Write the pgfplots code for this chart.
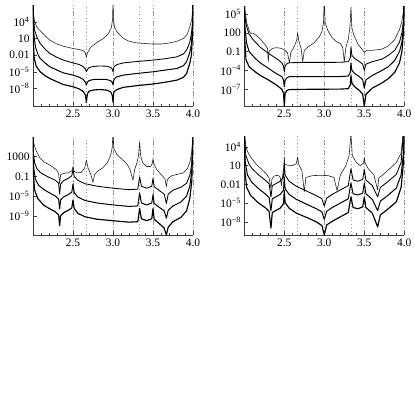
\documentclass[border=0pt]{standalone}
\usepackage{fontspec}
\setmainfont{Liberation Serif}
\usepackage{pgfplots}
\pgfplotsset{compat=1.18}
\pgfplotsset{
 panel/.style={
  scale only axis, width=160bp, xmin=2, xmax=4,
  axis x line=bottom, axis y line=left,
  axis line style={-, black!75, line width=0.5bp},
  xtick={2.5,3,3.5,4}, xticklabels={2.5,3.0,3.5,4.0},
  minor xtick={2.1,2.2,2.3,2.4,2.6,2.7,2.8,2.9,3.1,3.2,3.3,3.4,3.6,3.7,3.8,3.9},
  tick align=inside, major tick length=4bp, minor tick length=2.5bp,
  tick style={black!75, line width=0.4bp},
  xmajorgrids, major x grid style={gray!80, line width=0.5bp, dash pattern=on 5bp off 2bp on 1bp off 2bp},
  extra x ticks={2.666667,3.333333}, extra x tick labels={},
  extra x tick style={xmajorgrids, major x grid style={gray!80, line width=0.5bp, dash pattern=on 1bp off 2.5bp}, major tick length=0pt},
  ticklabel style={font=\fontsize{11.5}{12}\selectfont},
  every axis plot/.append style={black, line join=round},
 },
 c1/.style={line width=0.6bp, black!85},
 c2/.style={line width=0.85bp},
 c3/.style={line width=1.0bp},
 c4/.style={line width=1.15bp},
}
\begin{document}
\begin{tikzpicture}
\path[use as bounding box] (0,0) rectangle (415bp,-415bp);
% ---------------- Panel 1 ----------------
\begin{axis}[panel, at={(33bp,-106bp)}, anchor=south west, height=100.8bp,
  ymin=-11.17, ymax=7,
  ytick={-8,-5,-2,1,4}, yticklabels={10\textsuperscript{−8},10\textsuperscript{−5},0.01,10,10\textsuperscript{4}}]
\addplot[c1] coordinates {(2.0,8) (2.005,5.5) (2.02,4.0) (2.05,3.0) (2.09,2.4) (2.15,1.5) (2.21,0.7) (2.3,0.0) (2.38,-0.4) (2.5,-0.8) (2.58,-1.0) (2.63,-1.2) (2.655,-1.6) (2.667,-2.4) (2.68,-1.6) (2.72,-0.6) (2.8,0.3) (2.88,1.0) (2.94,1.8) (2.98,3.0) (2.995,4.5) (3.0,8)
 (3.005,4.5) (3.02,3.0) (3.05,2.2) (3.13,1.0) (3.2,0.5) (3.3,0.2) (3.5,0.0) (3.6,0.0) (3.71,0.2) (3.8,0.5) (3.88,1.0) (3.93,1.8) (3.96,3.1) (3.985,4.5) (3.995,6) (4.0,8)};
\addplot[c2] coordinates {(2.0,8) (2.005,5) (2.02,2.5) (2.05,1.2) (2.09,0.1) (2.15,-0.9) (2.21,-1.7) (2.3,-2.4) (2.38,-2.9) (2.5,-3.4) (2.58,-3.7) (2.63,-4.1) (2.655,-4.5) (2.667,-5.0) (2.68,-4.6) (2.70,-4.25) (2.75,-4.05) (2.83,-3.95) (2.92,-4.0) (2.97,-4.2) (2.99,-4.5) (3.0,-5.0) (3.01,-4.2) (3.03,-3.9) (3.05,-3.7) (3.13,-3.4) (3.3,-3.15) (3.5,-2.9) (3.65,-2.65) (3.8,-2.3) (3.88,-1.8) (3.92,-1.1) (3.96,0.3) (3.98,1.9) (3.995,4) (4.0,8)};
\addplot[c3] coordinates {(2.0,8) (2.003,5) (2.01,2) (2.03,-0.5) (2.06,-1.8) (2.09,-2.6) (2.15,-3.4) (2.21,-4.1) (2.3,-4.7) (2.38,-5.2) (2.5,-5.6) (2.58,-6.0) (2.63,-6.4) (2.655,-6.9) (2.667,-7.4) (2.68,-6.9) (2.70,-6.6) (2.75,-6.4) (2.83,-6.35) (2.92,-6.4) (2.97,-6.6) (2.99,-6.9) (3.0,-7.3) (3.01,-6.5) (3.03,-6.1) (3.05,-5.9) (3.13,-5.6) (3.3,-5.3) (3.5,-5.0) (3.65,-4.7) (3.8,-4.4) (3.88,-3.9) (3.92,-3.2) (3.96,-1.5) (3.98,0) (3.995,3) (4.0,8)};
\addplot[c4] coordinates {(2.0,8) (2.002,4) (2.006,0) (2.015,-2.5) (2.04,-4.0) (2.09,-5.0) (2.15,-5.7) (2.21,-6.2) (2.3,-6.8) (2.38,-7.3) (2.5,-7.7) (2.58,-8.1) (2.63,-8.6) (2.655,-9.2) (2.667,-10.5) (2.68,-9.0) (2.70,-8.5) (2.75,-8.3) (2.83,-8.2) (2.92,-8.3) (2.97,-8.6) (2.99,-9.2) (3.0,-10.5) (3.01,-8.7) (3.03,-8.4) (3.05,-8.2) (3.13,-7.8) (3.3,-7.5) (3.5,-7.2) (3.65,-6.9) (3.8,-6.5) (3.88,-6.0) (3.92,-5.3) (3.96,-3.5) (3.98,-2) (3.995,2) (4.0,8)};
\end{axis}
% ---------------- Panel 2 ----------------
\begin{axis}[panel, at={(244.3bp,-106bp)}, anchor=south west, height=99.6bp,
  ymin=-9.66, ymax=6.2,
  ytick={-7,-4,-1,2,5}, yticklabels={10\textsuperscript{−7},10\textsuperscript{−4},0.1,100,10\textsuperscript{5}}]
\addplot[c1] coordinates {(2,8) (2.004,6.5) (2.009,5.6) (2.03,3.6) (2.06,2.4) (2.08,1.9) (2.1,1.95) (2.13,1.8) (2.2,1.0) (2.26,0.1) (2.29,-0.5) (2.3,-2.6) (2.31,-0.9) (2.35,-0.5) (2.4,-0.37) (2.45,-0.45) (2.5,-0.7) (2.54,-1.2) (2.565,-2.8) (2.58,-1.2) (2.62,-0.3) (2.655,0.8) (2.667,2.0) (2.68,0.8) (2.71,-0.5) (2.73,-2.6) (2.75,-0.8) (2.8,-0.2) (2.87,0.35) (2.94,1.4) (2.97,2.2) (2.99,3.6) (3.0,8) (3.01,3.6) (3.05,2.2) (3.1,1.2) (3.15,0.6) (3.2,0.3) (3.23,-0.3) (3.25,-2.6) (3.27,-0.3) (3.3,1.0) (3.32,2.8) (3.333,6.0) (3.345,2.8) (3.37,1.6) (3.42,0.2) (3.47,-0.6) (3.5,-1.1) (3.53,-0.8) (3.6,-0.8) (3.72,-0.6) (3.8,-0.1) (3.88,0.9) (3.94,2.5) (3.97,3.8) (3.99,5.5) (4,8)};
\addplot[c2] coordinates {(2,8) (2.005,5.5) (2.015,3.8) (2.029,3.0) (2.06,1.8) (2.113,0.86) (2.2,-0.3) (2.3,-1.26) (2.425,-2.3) (2.47,-2.8) (2.49,-3.3) (2.5,-4.2) (2.51,-3.3) (2.53,-2.95) (2.56,-2.78) (2.7,-2.72) (3.0,-2.72) (3.2,-2.7) (3.3,-2.6) (3.325,-2.0) (3.333,-0.3) (3.345,-1.6) (3.38,-2.1) (3.44,-2.6) (3.48,-3.0) (3.5,-4.0) (3.52,-3.0) (3.6,-2.6) (3.72,-2.2) (3.8,-1.6) (3.88,-0.8) (3.94,0.5) (3.97,2.0) (3.99,4) (4,8)};
\addplot[c3] coordinates {(2,8) (2.003,5) (2.01,2.5) (2.029,0.33) (2.06,-1.0) (2.134,-2.05) (2.2,-2.8) (2.3,-3.65) (2.4,-4.5) (2.47,-5.0) (2.49,-5.5) (2.5,-6.6) (2.51,-5.6) (2.53,-5.2) (2.56,-5.0) (2.8,-5.0) (3.2,-4.97) (3.3,-4.9) (3.325,-4.3) (3.333,-2.8) (3.345,-4.0) (3.38,-4.5) (3.44,-5.0) (3.48,-5.5) (3.5,-6.8) (3.52,-5.5) (3.6,-4.8) (3.72,-4.0) (3.8,-3.4) (3.88,-2.4) (3.94,-1.0) (3.97,0.5) (3.99,3) (4,8)};
\addplot[c4] coordinates {(2,8) (2.002,4) (2.008,0.5) (2.021,-2.3) (2.06,-3.4) (2.134,-4.2) (2.2,-4.8) (2.3,-5.5) (2.4,-6.3) (2.47,-7.0) (2.49,-7.6) (2.5,-9.7) (2.51,-7.7) (2.53,-7.2) (2.56,-7.05) (2.8,-7.0) (3.2,-6.97) (3.3,-6.9) (3.325,-6.3) (3.333,-4.8) (3.345,-6.0) (3.38,-6.6) (3.44,-7.2) (3.48,-7.8) (3.5,-9.7) (3.52,-7.8) (3.6,-6.8) (3.72,-6.0) (3.8,-5.3) (3.88,-4.3) (3.94,-2.8) (3.97,-1) (3.99,2) (4,8)};
\end{axis}
% ---------------- Panel 3 ----------------
\begin{axis}[panel, at={(33bp,-235bp)}, anchor=south west, height=97.1bp,
  ymin=-12.9, ymax=6.8,
  ytick={-9,-5,-1,3}, yticklabels={10\textsuperscript{−9},10\textsuperscript{−5},0.1,1000}]
\addplot[c1] coordinates {(2,8) (2.005,6.5) (2.0125,5.5) (2.04,4.2) (2.0875,2.67) (2.15,1.8) (2.21,1.3) (2.2958,0.3) (2.32,-0.4) (2.333,-2.5) (2.345,-0.7) (2.38,-0.4) (2.44,-0.3) (2.485,0.1) (2.5,1.0) (2.515,0.0) (2.55,-0.3) (2.6,-0.2) (2.645,0.6) (2.667,2.3) (2.69,0.6) (2.72,-0.5) (2.75,-2.2) (2.77,-0.6) (2.82,0.2) (2.87,0.7) (2.93,1.8) (2.97,3.2) (2.99,4.8) (3.0,8) (3.01,4.6) (3.05,3.4) (3.09,2.8) (3.17,1.6) (3.21,0.5) (3.25,-1.8) (3.27,0.3) (3.3,1.8) (3.32,3.3) (3.333,6.0) (3.345,3.3) (3.37,1.8) (3.42,1.0) (3.47,1.0) (3.49,1.6) (3.5,2.6) (3.51,1.6) (3.55,0.3) (3.6,-0.6) (3.65,-1.5) (3.667,-3.1) (3.68,-1.6) (3.73,-0.9) (3.8,-0.6) (3.88,-0.3) (3.93,0.6) (3.96,1.8) (3.985,4) (4,8)};
\addplot[c2] coordinates {(2.0,8) (2.005,4) (2.02,1.8) (2.046,0.6) (2.09,-0.2) (2.13,-0.6) (2.2,-1.2) (2.28,-1.8) (2.32,-2.4) (2.333,-4.6) (2.345,-2.6) (2.38,-1.9) (2.44,-1.4) (2.485,-0.9) (2.5,0.5) (2.515,-1.0) (2.56,-1.8) (2.65,-2.5) (2.8,-3.0) (3.0,-3.4) (3.2,-3.7) (3.31,-3.6) (3.333,-1.1) (3.355,-3.0) (3.42,-3.4) (3.485,-3.0) (3.5,-1.4) (3.515,-3.1) (3.58,-3.9) (3.64,-4.6) (3.667,-6.5) (3.69,-4.6) (3.75,-3.8) (3.85,-3.2) (3.92,-2.4) (3.96,-0.8) (3.985,1.5) (4.0,8)};
\addplot[c3] coordinates {(2,8) (2.003,4) (2.01,0.5) (2.03,-1.6) (2.07,-2.8) (2.13,-3.6) (2.2,-4.3) (2.28,-5.0) (2.32,-5.6) (2.333,-7.6) (2.345,-5.8) (2.38,-5.2) (2.44,-4.7) (2.485,-4.2) (2.5,-2.6) (2.515,-4.3) (2.56,-5.2) (2.65,-5.9) (2.8,-6.4) (3.0,-6.8) (3.2,-7.1) (3.31,-7.0) (3.333,-4.4) (3.355,-6.4) (3.42,-6.8) (3.485,-6.4) (3.5,-4.7) (3.515,-6.5) (3.58,-7.3) (3.64,-8.0) (3.667,-9.5) (3.69,-7.9) (3.75,-7.0) (3.85,-6.2) (3.92,-5.0) (3.96,-3.0) (3.985,0) (4,8)};
\addplot[c4] coordinates {(2,8) (2.002,3) (2.007,-1) (2.02,-3.8) (2.06,-5.5) (2.13,-6.8) (2.2,-7.5) (2.28,-8.2) (2.32,-8.8) (2.333,-11) (2.345,-9.0) (2.38,-8.4) (2.44,-7.9) (2.485,-7.4) (2.5,-5.8) (2.515,-7.5) (2.56,-8.5) (2.65,-9.2) (2.8,-9.7) (3.0,-10.0) (3.2,-10.3) (3.31,-10.2) (3.333,-7.5) (3.355,-9.6) (3.42,-10.0) (3.485,-9.6) (3.5,-7.5) (3.515,-9.7) (3.58,-10.6) (3.64,-11.5) (3.667,-12.9) (3.69,-11.3) (3.75,-10.2) (3.85,-9.3) (3.92,-8.0) (3.96,-5.5) (3.985,-2) (4,8)};
\end{axis}
% ---------------- Panel 4 ----------------
\begin{axis}[panel, at={(244.3bp,-235bp)}, anchor=south west, height=98.75bp,
  ymin=-10.1, ymax=5.7,
  ytick={-8,-5,-2,1,4}, yticklabels={10\textsuperscript{−8},10\textsuperscript{−5},0.01,10,10\textsuperscript{4}}]
\addplot[c1] coordinates {(2,8) (2.005,6) (2.02,4) (2.05,3) (2.09,2.2) (2.15,1.2) (2.22,0.4) (2.28,-0.4) (2.31,-1.0) (2.333,-2.6) (2.345,-1.2) (2.37,-0.7) (2.4,-0.55) (2.43,-0.6) (2.45,-0.9) (2.465,-2.2) (2.48,-0.5) (2.495,0.8) (2.5,2.4) (2.505,1.3) (2.53,1.1) (2.6,1.0) (2.65,1.3) (2.667,2.4) (2.68,1.2) (2.72,0.2) (2.75,-3.2) (2.77,-0.9) (2.85,-0.6) (2.95,-0.55) (3.05,-0.6) (3.12,-0.9) (3.16,-3.0) (3.2,-0.5) (3.27,1.0) (3.31,2.6) (3.333,6) (3.35,2.6) (3.4,1.5) (3.45,1.0) (3.49,1.4) (3.5,2.3) (3.51,1.4) (3.55,0.5) (3.62,-0.5) (3.667,-2.9) (3.68,-1.0) (3.72,-0.6) (3.8,0.3) (3.9,1.5) (3.96,3) (4,8)};
\addplot[c2] coordinates {(2,8) (2.005,5) (2.02,2.6) (2.06,1.2) (2.1,0.5) (2.18,-0.5) (2.26,-1.3) (2.31,-1.9) (2.333,-4.0) (2.35,-2.2) (2.45,-1.5) (2.49,-0.8) (2.5,1.5) (2.51,-0.5) (2.56,-1.5) (2.65,-2.3) (2.8,-3.2) (2.9,-3.8) (2.97,-4.3) (3.0,-5.5) (3.03,-4.2) (3.1,-3.6) (3.2,-2.9) (3.3,-2.2) (3.333,0.5) (3.36,-1.3) (3.42,-1.5) (3.48,-1.2) (3.5,0.4) (3.52,-1.3) (3.6,-2.2) (3.667,-4.0) (3.7,-2.5) (3.8,-1.5) (3.9,-0.4) (3.96,1.5) (4,8)};
\addplot[c3] coordinates {(2,8) (2.003,4.5) (2.012,1.5) (2.04,-0.5) (2.09,-1.6) (2.18,-2.7) (2.26,-3.5) (2.31,-4.1) (2.333,-6.2) (2.35,-4.3) (2.45,-3.6) (2.49,-2.9) (2.5,-0.8) (2.51,-2.7) (2.56,-3.6) (2.65,-4.4) (2.8,-5.3) (2.9,-5.9) (2.97,-6.4) (3.0,-7.6) (3.03,-6.3) (3.1,-5.7) (3.2,-5.0) (3.3,-4.3) (3.333,-1.8) (3.36,-3.5) (3.42,-3.7) (3.48,-3.4) (3.5,-1.8) (3.52,-3.5) (3.6,-4.4) (3.667,-6.2) (3.7,-4.7) (3.8,-3.7) (3.9,-2.6) (3.96,-0.5) (3.99,3) (4,8)};
\addplot[c4] coordinates {(2,8) (2.002,4) (2.008,0) (2.03,-2.5) (2.08,-3.8) (2.18,-5.0) (2.26,-5.7) (2.31,-6.3) (2.333,-9.0) (2.35,-6.5) (2.45,-5.8) (2.49,-5.1) (2.5,-3.0) (2.51,-4.9) (2.56,-5.8) (2.65,-6.6) (2.8,-7.4) (2.9,-8.0) (2.97,-8.6) (3.0,-10.1) (3.03,-8.5) (3.1,-7.9) (3.2,-7.2) (3.3,-6.5) (3.333,-4.0) (3.36,-5.7) (3.42,-5.9) (3.48,-5.6) (3.5,-4.0) (3.52,-5.7) (3.6,-6.6) (3.667,-8.8) (3.7,-6.9) (3.8,-5.9) (3.9,-4.8) (3.96,-2.5) (3.99,1.5) (4,8)};
\end{axis}
\end{tikzpicture}
\end{document}
